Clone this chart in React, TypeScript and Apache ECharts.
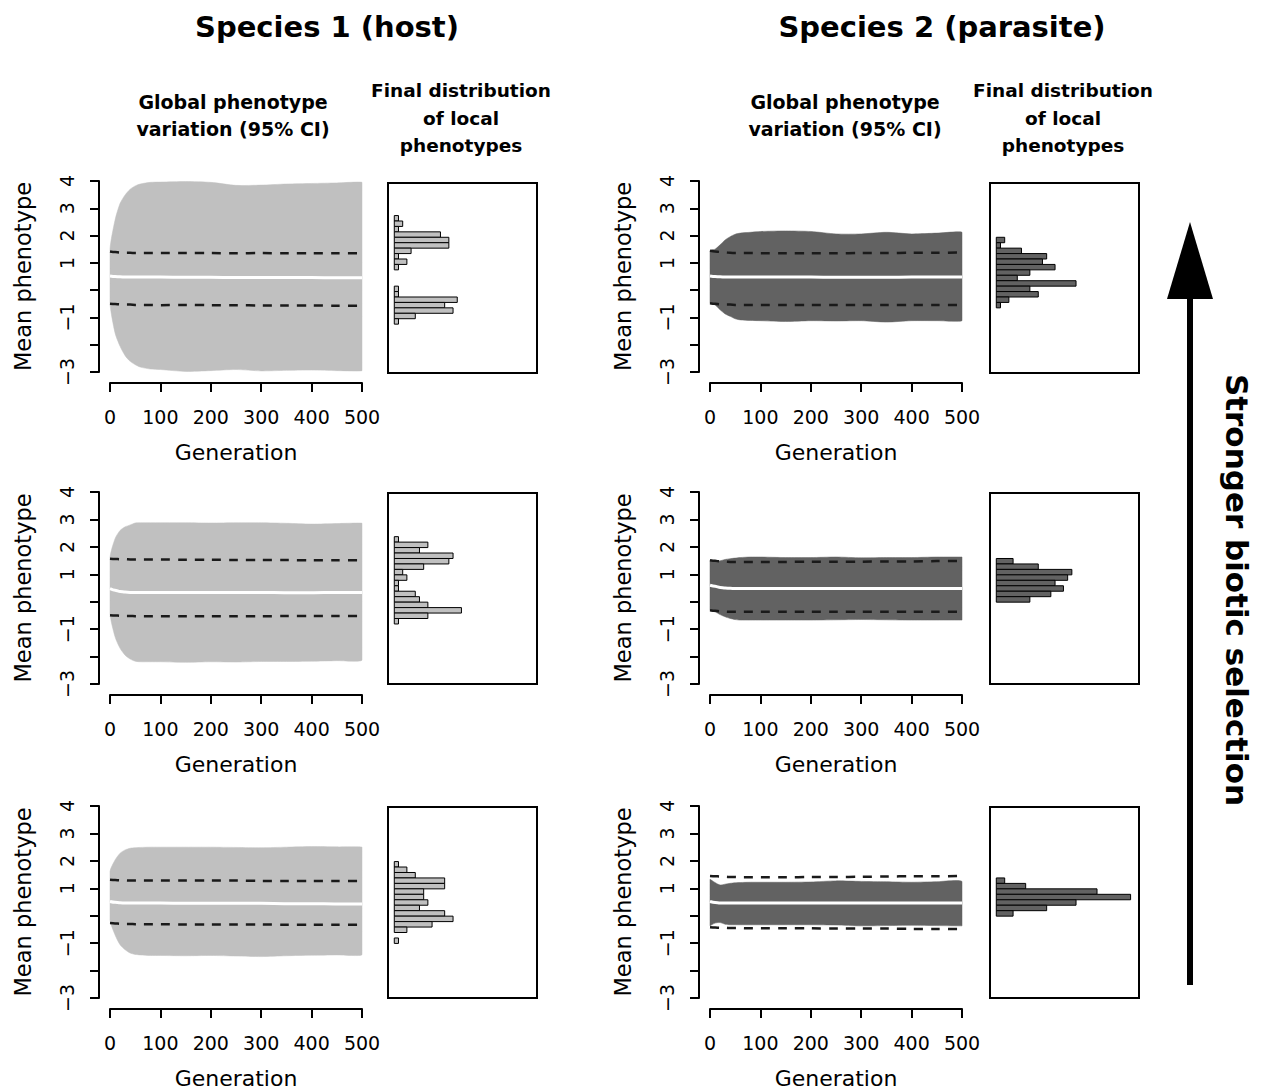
import React, { useEffect, useRef } from "react";
import * as echarts from "echarts";

// ---------- data ----------
const GENS = [0, 10, 20, 30, 40, 50, 60, 80, 100, 150, 200, 250, 300, 350, 400, 450, 500];
const X_TICKS = [0, 100, 200, 300, 400, 500];
const Y_TICKS = [-3, -2, -1, 0, 1, 2, 3, 4];
const Y_TICK_LABELS = ["\u22123", "", "\u22121", "", "1", "2", "3", "4"];

// Species 1 (host)
const H1_UPPER = [1.50, 2.57, 3.18, 3.49, 3.70, 3.82, 3.89, 3.95, 3.96, 3.98, 3.95, 3.84, 3.85, 3.89, 3.91, 3.93, 3.95];
const H1_LOWER = [-0.48, -1.57, -2.06, -2.40, -2.61, -2.73, -2.82, -2.89, -2.91, -2.98, -2.95, -2.91, -2.96, -2.94, -2.93, -2.95, -2.95];
const H1_MEAN = [0.52, 0.50, 0.49, 0.48, 0.48, 0.48, 0.48, 0.48, 0.48, 0.47, 0.47, 0.46, 0.46, 0.46, 0.46, 0.45, 0.45];
const H1_DASH_HI = [1.42, 1.40, 1.38, 1.37, 1.37, 1.36, 1.36, 1.36, 1.36, 1.36, 1.36, 1.35, 1.36, 1.35, 1.35, 1.35, 1.35];
const H1_DASH_LO = [-0.50, -0.51, -0.52, -0.53, -0.53, -0.54, -0.54, -0.54, -0.55, -0.54, -0.55, -0.55, -0.56, -0.56, -0.56, -0.57, -0.57];
const H1_EDGES = [2.8, 2.6, 2.4, 2.2, 2.0, 1.8, 1.6, 1.4, 1.2, 1.0, 0.8, 0.6, 0.4, 0.2, 0.0, -0.2, -0.4, -0.6, -0.8, -1.0, -1.2];
const H1_COUNTS = [1, 2, 1, 11, 13, 13, 4, 1, 3, 1, 0, 0, 0, 1, 1, 15, 12, 14, 5, 1];

const H2_UPPER = [1.61, 2.30, 2.60, 2.73, 2.80, 2.87, 2.88, 2.88, 2.88, 2.88, 2.87, 2.88, 2.88, 2.86, 2.83, 2.85, 2.86];
const H2_LOWER = [-0.43, -1.28, -1.70, -1.95, -2.09, -2.17, -2.19, -2.19, -2.19, -2.21, -2.19, -2.20, -2.18, -2.18, -2.17, -2.15, -2.13];
const H2_MEAN = [0.48, 0.42, 0.37, 0.35, 0.34, 0.34, 0.34, 0.34, 0.34, 0.34, 0.34, 0.34, 0.34, 0.33, 0.33, 0.34, 0.34];
const H2_DASH_HI = [1.57, 1.56, 1.55, 1.55, 1.54, 1.54, 1.54, 1.54, 1.54, 1.53, 1.53, 1.52, 1.52, 1.52, 1.51, 1.51, 1.51];
const H2_DASH_LO = [-0.49, -0.50, -0.51, -0.52, -0.52, -0.53, -0.53, -0.53, -0.53, -0.53, -0.53, -0.53, -0.53, -0.52, -0.52, -0.52, -0.52];
const H2_EDGES = [2.4, 2.2, 2.0, 1.8, 1.6, 1.4, 1.2, 1.0, 0.8, 0.6, 0.4, 0.2, 0.0, -0.2, -0.4, -0.6, -0.8];
const H2_COUNTS = [1, 8, 6, 14, 13, 7, 2, 3, 1, 1, 5, 6, 8, 16, 8, 1];

const H3_UPPER = [1.61, 2.03, 2.28, 2.40, 2.46, 2.48, 2.49, 2.50, 2.50, 2.50, 2.50, 2.49, 2.48, 2.50, 2.52, 2.51, 2.50];
const H3_LOWER = [-0.15, -0.70, -1.06, -1.24, -1.36, -1.41, -1.43, -1.45, -1.45, -1.46, -1.45, -1.47, -1.49, -1.46, -1.44, -1.43, -1.42];
const H3_MEAN = [0.52, 0.49, 0.47, 0.46, 0.46, 0.46, 0.46, 0.46, 0.46, 0.45, 0.45, 0.45, 0.45, 0.44, 0.44, 0.43, 0.43];
const H3_DASH_HI = [1.31, 1.30, 1.29, 1.29, 1.28, 1.28, 1.28, 1.28, 1.28, 1.28, 1.28, 1.28, 1.27, 1.27, 1.27, 1.27, 1.27];
const H3_DASH_LO = [-0.27, -0.28, -0.29, -0.30, -0.30, -0.31, -0.31, -0.31, -0.31, -0.32, -0.32, -0.32, -0.32, -0.33, -0.33, -0.33, -0.33];
const H3_EDGES = [2.0, 1.8, 1.6, 1.4, 1.2, 1.0, 0.8, 0.6, 0.4, 0.2, 0.0, -0.2, -0.4, -0.6, -0.8, -1.0];
const H3_COUNTS = [1, 3, 5, 12, 12, 7, 7, 8, 6, 12, 14, 9, 3, 0, 1];

// Species 2 (parasite)
const P1_UPPER = [1.44, 1.50, 1.66, 1.84, 1.96, 2.05, 2.09, 2.12, 2.15, 2.17, 2.15, 2.06, 2.06, 2.12, 2.06, 2.09, 2.12];
const P1_LOWER = [-0.48, -0.54, -0.72, -0.87, -0.96, -1.05, -1.09, -1.11, -1.12, -1.15, -1.12, -1.13, -1.12, -1.17, -1.12, -1.12, -1.12];
const P1_MEAN = [0.52, 0.50, 0.49, 0.48, 0.48, 0.48, 0.48, 0.48, 0.48, 0.48, 0.48, 0.47, 0.47, 0.47, 0.48, 0.48, 0.48];
const P1_DASH_HI = [1.44, 1.42, 1.40, 1.38, 1.37, 1.36, 1.36, 1.36, 1.35, 1.35, 1.35, 1.35, 1.36, 1.36, 1.37, 1.37, 1.38];
const P1_DASH_LO = [-0.48, -0.50, -0.52, -0.53, -0.53, -0.54, -0.54, -0.54, -0.54, -0.54, -0.54, -0.54, -0.54, -0.54, -0.54, -0.54, -0.54];
const P1_EDGES = [2.0, 1.8, 1.6, 1.4, 1.2, 1.0, 0.8, 0.6, 0.4, 0.2, 0.0, -0.2, -0.4, -0.6];
const P1_COUNTS = [2, 1, 6, 12, 11, 14, 8, 5, 19, 8, 10, 3, 1];

const P2_UPPER = [1.51, 1.45, 1.49, 1.54, 1.57, 1.59, 1.61, 1.63, 1.63, 1.61, 1.61, 1.63, 1.60, 1.61, 1.61, 1.63, 1.63];
const P2_LOWER = [-0.31, -0.37, -0.47, -0.55, -0.61, -0.65, -0.67, -0.67, -0.67, -0.67, -0.67, -0.66, -0.65, -0.66, -0.67, -0.67, -0.67];
const P2_MEAN = [0.60, 0.56, 0.52, 0.50, 0.49, 0.48, 0.48, 0.48, 0.48, 0.48, 0.48, 0.48, 0.48, 0.48, 0.48, 0.48, 0.48];
const P2_DASH_HI = [1.51, 1.49, 1.47, 1.46, 1.45, 1.45, 1.45, 1.45, 1.45, 1.45, 1.46, 1.46, 1.46, 1.47, 1.47, 1.48, 1.48];
const P2_DASH_LO = [-0.31, -0.33, -0.35, -0.36, -0.37, -0.37, -0.37, -0.37, -0.37, -0.37, -0.37, -0.37, -0.37, -0.37, -0.37, -0.37, -0.37];
const P2_EDGES = [1.6, 1.4, 1.2, 1.0, 0.8, 0.6, 0.4, 0.2, 0.0];
const P2_COUNTS = [4, 10, 18, 17, 14, 16, 13, 8];

const P3_UPPER = [1.33, 1.21, 1.12, 1.15, 1.18, 1.20, 1.21, 1.22, 1.22, 1.22, 1.23, 1.27, 1.25, 1.24, 1.22, 1.24, 1.25];
const P3_LOWER = [-0.37, -0.27, -0.25, -0.31, -0.33, -0.33, -0.33, -0.33, -0.33, -0.33, -0.33, -0.34, -0.37, -0.36, -0.35, -0.36, -0.37];
const P3_MEAN = [0.52, 0.48, 0.46, 0.46, 0.46, 0.46, 0.46, 0.46, 0.46, 0.46, 0.46, 0.46, 0.46, 0.46, 0.46, 0.46, 0.46];
const P3_DASH_HI = [1.45, 1.44, 1.43, 1.42, 1.41, 1.41, 1.40, 1.40, 1.40, 1.40, 1.41, 1.41, 1.42, 1.43, 1.44, 1.44, 1.45];
const P3_DASH_LO = [-0.42, -0.43, -0.44, -0.44, -0.45, -0.45, -0.45, -0.46, -0.46, -0.46, -0.46, -0.47, -0.47, -0.47, -0.48, -0.48, -0.48];
const P3_EDGES = [1.4, 1.2, 1.0, 0.8, 0.6, 0.4, 0.2, 0.0];
const P3_COUNTS = [2, 7, 24, 32, 19, 12, 4];

// ---------- style / layout ----------
const FONT = "DejaVu Sans";
const LIGHT = "#c0c0c0";
const DARK = "#626262";

const ROW_TOP = [181, 492, 806];
const ROW_H = [191, 192, 192];
const HIST_TOP = [183, 493, 807];
const HIST_H = [190, 191, 191];
const COL_LEFT = [110, 710];
const HIST_LEFT = [388, 990];

const PANELS = [
  { col: 0, row: 0, upper: H1_UPPER, lower: H1_LOWER, mean: H1_MEAN, hi: H1_DASH_HI, lo: H1_DASH_LO, edges: H1_EDGES, counts: H1_COUNTS, fill: LIGHT },
  { col: 0, row: 1, upper: H2_UPPER, lower: H2_LOWER, mean: H2_MEAN, hi: H2_DASH_HI, lo: H2_DASH_LO, edges: H2_EDGES, counts: H2_COUNTS, fill: LIGHT },
  { col: 0, row: 2, upper: H3_UPPER, lower: H3_LOWER, mean: H3_MEAN, hi: H3_DASH_HI, lo: H3_DASH_LO, edges: H3_EDGES, counts: H3_COUNTS, fill: LIGHT },
  { col: 1, row: 0, upper: P1_UPPER, lower: P1_LOWER, mean: P1_MEAN, hi: P1_DASH_HI, lo: P1_DASH_LO, edges: P1_EDGES, counts: P1_COUNTS, fill: DARK },
  { col: 1, row: 1, upper: P2_UPPER, lower: P2_LOWER, mean: P2_MEAN, hi: P2_DASH_HI, lo: P2_DASH_LO, edges: P2_EDGES, counts: P2_COUNTS, fill: DARK },
  { col: 1, row: 2, upper: P3_UPPER, lower: P3_LOWER, mean: P3_MEAN, hi: P3_DASH_HI, lo: P3_DASH_LO, edges: P3_EDGES, counts: P3_COUNTS, fill: DARK },
];

function buildOption() {
  const grid: any[] = [];
  const xAxis: any[] = [];
  const yAxis: any[] = [];
  const series: any[] = [];
  const axisLine = { show: true, onZero: false, lineStyle: { color: "#000", width: 2 } };
  const axisTick = { show: true, length: 9, lineStyle: { color: "#000", width: 2 } };

  PANELS.forEach((p, i) => {
    const gi = i * 2;
    const hi = i * 2 + 1;
    grid.push({ left: COL_LEFT[p.col], top: ROW_TOP[p.row], width: 252, height: ROW_H[p.row], containLabel: false });
    grid.push({
      left: HIST_LEFT[p.col], top: HIST_TOP[p.row], width: 149, height: HIST_H[p.row],
      show: true, borderColor: "#000", borderWidth: 2, backgroundColor: "transparent",
    });
    xAxis.push({
      gridIndex: gi, type: "value", min: 0, max: 500, interval: 100, offset: 11,
      axisLine, axisTick, splitLine: { show: false },
      axisLabel: { color: "#000", fontSize: 19, fontFamily: FONT, margin: 24, showMinLabel: true, showMaxLabel: true, hideOverlap: false,
        customValues: X_TICKS },
      name: "Generation", nameLocation: "middle", nameGap: 58,
      nameTextStyle: { color: "#000", fontSize: 22, fontFamily: FONT },
    });
    xAxis.push({ gridIndex: hi, type: "value", min: -1.5, max: 34, show: false });
    yAxis.push({
      gridIndex: gi, type: "value", min: -3, max: 4, interval: 1, offset: 11,
      axisLine, axisTick, splitLine: { show: false },
      axisLabel: {
        color: "#000", fontSize: 19, fontFamily: FONT, rotate: 90, margin: 23, showMinLabel: true, showMaxLabel: true, hideOverlap: false,
        formatter: (v: number) => {
          const k = Y_TICKS.indexOf(Math.round(v));
          return k >= 0 ? Y_TICK_LABELS[k] : "";
        },
      },
      name: "Mean phenotype", nameLocation: "middle", nameGap: 65, nameRotate: 90,
      nameTextStyle: { color: "#000", fontSize: 22.5, fontFamily: FONT },
    });
    yAxis.push({ gridIndex: hi, type: "value", min: -3, max: 4, show: false });

    const common = { xAxisIndex: gi, yAxisIndex: gi, symbol: "none", smooth: 0.3, smoothMonotone: "x", silent: true };
    // 95% CI band as one polygon built through the axis scales
    series.push({
      type: "custom", xAxisIndex: gi, yAxisIndex: gi, silent: true, z: 2,
      data: GENS.map((g, k) => [g, p.lower[k], p.upper[k]]),
      encode: { x: 0, y: [1, 2] },
      renderItem: (params: any, api: any) => {
        if (params.dataIndex !== 0) return null;
        const top = GENS.map((g, k) => api.coord([g, p.upper[k]]));
        const bot = GENS.map((g, k) => api.coord([g, p.lower[k]])).reverse();
        const pts = top.concat(bot);
        const xs = pts.map((q: number[]) => q[0]);
        const ys = pts.map((q: number[]) => q[1]);
        const box = [[Math.min(...xs), Math.min(...ys)], [Math.max(...xs), Math.max(...ys)]];
        return {
          type: "polygon",
          shape: { points: pts, smooth: 0.25, smoothConstraint: box },
          style: { fill: p.fill, stroke: p.fill, lineWidth: 0.5 },
        };
      },
    });
    series.push({
      ...common, type: "line", data: GENS.map((g, k) => [g, p.mean[k]]), z: 3,
      lineStyle: { color: "#fff", width: 3 },
    });
    series.push({
      ...common, type: "line", data: GENS.map((g, k) => [g, p.hi[k]]), z: 4,
      lineStyle: { color: "#1a1a1a", width: 2.5, type: [9, 8] },
    });
    series.push({
      ...common, type: "line", data: GENS.map((g, k) => [g, p.lo[k]]), z: 4,
      lineStyle: { color: "#1a1a1a", width: 2.5, type: [9, 8] },
    });
    series.push({
      type: "custom", xAxisIndex: hi, yAxisIndex: hi, silent: true,
      data: p.counts.map((c, k) => [c, p.edges[k + 1], p.edges[k]]),
      encode: { x: 0, y: [1, 2] },
      renderItem: (params: any, api: any) => {
        const c = api.value(0);
        if (!c) return null;
        const a = api.coord([0, api.value(2)]);
        const b = api.coord([c, api.value(1)]);
        return {
          type: "rect",
          shape: { x: a[0], y: a[1], width: b[0] - a[0], height: b[1] - a[1] },
          style: { fill: p.fill, stroke: "#000", lineWidth: 1 },
        };
      },
    });
  });

  const txt = (x: number, y: number, text: string, size: number, weight: string, lh?: number, rot?: number) => ({
    type: "text", x, y, rotation: rot || 0, silent: true,
    style: {
      text, fill: "#000", fontSize: size, fontWeight: weight, fontFamily: FONT,
      textAlign: "center", textVerticalAlign: "middle", align: "center", verticalAlign: "middle",
      lineHeight: lh || size * 1.2,
    },
  });

  const graphic: any[] = [
    txt(327, 27, "Species 1 (host)", 29, "bold"),
    txt(942, 27, "Species 2 (parasite)", 29, "bold"),
    txt(233, 115, "Global phenotype\nvariation (95% CI)", 19, "bold", 27),
    txt(845, 115, "Global phenotype\nvariation (95% CI)", 19, "bold", 27),
    txt(461, 118, "Final distribution\nof local\nphenotypes", 18.5, "bold", 27.5),
    txt(1063, 118, "Final distribution\nof local\nphenotypes", 18.5, "bold", 27.5),
    txt(1237, 590, "Stronger biotic selection", 31, "bold", 36, -Math.PI / 2),
    { type: "rect", silent: true, shape: { x: 1187, y: 290, width: 6, height: 695 }, style: { fill: "#000" } },
    { type: "polygon", silent: true, shape: { points: [[1190, 222], [1167, 299], [1213, 299]] }, style: { fill: "#000" } },
  ];

  return {
    animation: false,
    backgroundColor: "#fff",
    textStyle: { fontFamily: FONT },
    grid, xAxis, yAxis, series, graphic,
  };
}

export default function App() {
  const ref = useRef<HTMLDivElement>(null);
  useEffect(() => {
    if (!ref.current) return;
    const chart = echarts.init(ref.current, undefined, { renderer: "svg" });
    chart.setOption(buildOption() as any);
    return () => chart.dispose();
  }, []);
  return <div ref={ref} style={{ position: "absolute", left: 0, top: 0, width: 1265, height: 1092 }} />;
}
